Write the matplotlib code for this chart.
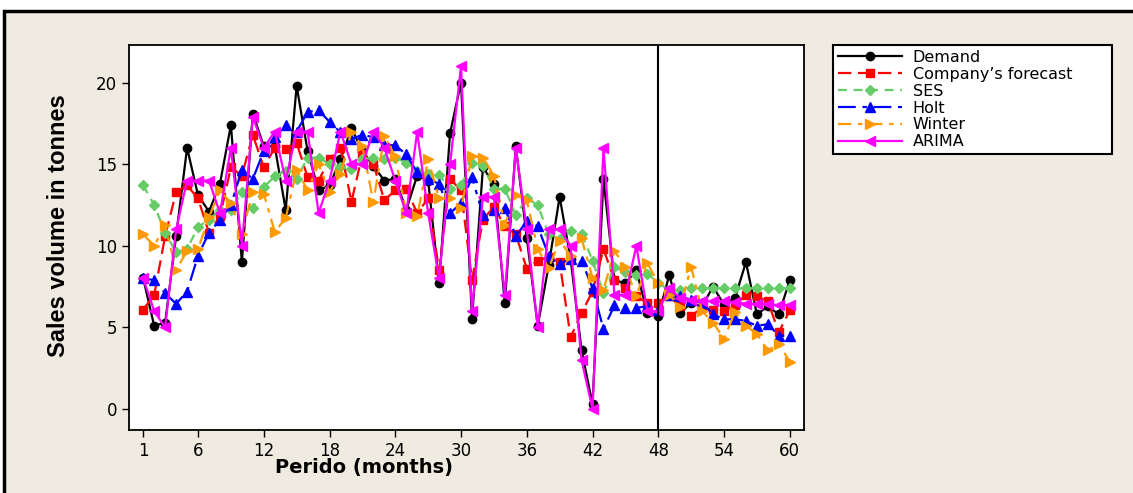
import matplotlib
matplotlib.use("Agg")
import matplotlib.pyplot as plt
from matplotlib.patches import Rectangle
import numpy as np

plt.rcParams["font.family"] = ["DejaVu Sans"]

months = list(range(1, 61))
x_ticks = [1, 6, 12, 18, 24, 30, 36, 42, 48, 54, 60]
y_ticks = [0, 5, 10, 15, 20]

demand = [8.0, 5.1, 5.3, 10.6, 16.0, 13.1, 12.1, 13.8, 17.4, 9.0,
          18.1, 16.1, 16.1, 12.2, 19.8, 15.8, 13.4, 13.7, 15.3, 17.2,
          15.8, 14.9, 14.0, 14.1, 12.2, 14.3, 14.0, 7.7, 16.9, 20.0,
          5.5, 14.8, 13.8, 6.5, 16.1, 10.5, 5.1, 8.8, 13.0, 9.2,
          3.6, 0.3, 14.1, 7.9, 7.7, 8.5, 5.9, 5.7, 8.2, 5.9,
          6.5, 6.3, 7.5, 6.4, 6.8, 9.0, 5.8, 6.3, 5.8, 7.9]

company = [6.1, 7.0, 10.6, 13.3, 13.7, 12.9, 10.8, 11.8, 14.8, 14.3,
           16.8, 14.8, 16.0, 15.9, 16.3, 14.2, 14.0, 15.3, 16.0, 12.7,
           15.6, 15.0, 12.8, 13.4, 13.5, 12.0, 12.9, 8.5, 14.1, 13.4,
           7.9, 11.6, 12.4, 11.2, 10.7, 8.6, 9.1, 9.3, 9.0, 4.4,
           5.9, 7.2, 9.8, 7.9, 7.4, 6.9, 6.5, 6.5, 6.9, 6.3,
           5.7, 6.2, 6.1, 6.0, 6.35, 7.0, 6.9, 6.6, 4.7, 6.05]

ses = [13.7, 12.5, 10.8, 9.6, 9.8, 11.15, 11.6, 12.2, 12.2, 13.3,
       12.3, 13.6, 14.25, 14.6, 14.1, 15.4, 15.4, 15.0, 14.8, 14.7,
       15.3, 15.4, 15.3, 15.4, 15.1, 14.6, 14.4, 14.35, 13.5, 13.7,
       15.1, 14.9, 13.5, 13.5, 11.9, 12.9, 12.5, 10.7, 10.4, 10.9,
       10.75, 9.1, 7.1, 8.7, 8.4, 8.2, 8.3, 7.7, 7.3, 7.3,
       7.4, 7.4, 7.4, 7.4, 7.4, 7.4, 7.4, 7.4, 7.4, 7.4]

holt = [8.0, 7.9, 7.1, 6.45, 7.2, 9.4, 10.8, 11.6, 12.5, 14.65,
        14.1, 15.8, 16.65, 17.4, 17.0, 18.2, 18.3, 17.6, 16.95, 16.55,
        16.8, 16.65, 16.2, 16.15, 15.6, 14.5, 14.1, 13.8, 12.0, 12.6,
        14.2, 11.9, 12.2, 12.3, 10.6, 11.5, 11.2, 9.4, 8.9, 9.2,
        9.1, 7.4, 4.9, 6.35, 6.2, 6.2, 6.3, 6.1, 7.0, 6.9,
        6.7, 6.5, 5.8, 5.5, 5.5, 5.4, 5.1, 5.2, 4.5, 4.5]

winter = [10.7, 10.0, 11.25, 8.5, 9.7, 9.8, 11.75, 13.4, 12.6, 10.75,
          13.3, 13.2, 10.85, 11.7, 14.65, 13.4, 15.0, 13.3, 14.4, 17.0,
          16.1, 12.7, 16.7, 15.5, 12.0, 11.8, 15.3, 12.9, 12.9, 12.3,
          15.5, 15.4, 14.3, 11.3, 13.1, 12.8, 9.8, 8.65, 10.3, 9.4,
          10.45, 8.05, 7.3, 9.7, 8.7, 6.9, 8.95, 7.7, 7.0, 6.25,
          8.7, 6.0, 5.3, 4.3, 5.95, 5.1, 4.6, 3.6, 4.0, 2.9]

arima = [8.0, 6.0, 5.0, 11.0, 14.0, 14.0, 14.0, 12.0, 16.0, 10.0,
         17.9, 16.0, 17.0, 14.0, 17.0, 17.0, 12.0, 14.0, 17.0, 15.0,
         15.0, 17.0, 16.0, 14.0, 12.0, 17.0, 12.0, 8.0, 15.0, 21.0,
         6.0, 13.0, 13.0, 7.0, 16.0, 11.0, 5.0, 11.0, 11.0, 10.0,
         3.0, 0.0, 16.0, 7.0, 7.0, 10.0, 6.0, 6.0, 7.4, 6.8,
         6.7, 6.65, 6.6, 6.6, 6.55, 6.45, 6.45, 6.45, 6.35, 6.4]

W, H = 1133, 493
fig = plt.figure(figsize=(W / 100, H / 100), dpi=100)
fig.patch.set_facecolor("white")
bg = "#EFEBE1"
fig.patches.append(Rectangle((4 / W, -0.05), 1.1, 1 - 11 / H + 0.05,
                             transform=fig.transFigure, facecolor=bg,
                             edgecolor="black", linewidth=2.5, zorder=-10))

ax = fig.add_axes([129 / W, 1 - 430 / H, (804 - 129) / W, (430 - 45) / H])
ax.set_facecolor("white")

lw = 1.6
ax.plot(months, demand, color="black", lw=lw, marker="o", ms=6, label="Demand", zorder=3)
ax.plot(months, company, color="#FF0000", lw=lw, ls=(0, (6, 3)), marker="s", ms=6,
        label="Company\u2019s forecast", zorder=3)
ax.plot(months, ses, color="#66CC66", lw=lw, ls=(0, (4, 3)), marker="D", ms=5.5,
        label="SES", zorder=3)
ax.plot(months, holt, color="#0000FF", lw=lw, ls=(0, (8, 3, 2, 3)), marker="^", ms=7.5,
        label="Holt", zorder=3)
ax.plot(months, winter, color="#FF9900", lw=lw, ls=(0, (6, 3, 2, 3)), marker=">", ms=7.5,
        label="Winter", zorder=3)
ax.plot(months, arima, color="#FF00FF", lw=lw, marker="<", ms=7.5, label="ARIMA", zorder=4)

ax.axvline(48, color="black", lw=1.5, zorder=5)

ax.set_xlim(-0.3, 61.3)
ax.set_ylim(-1.28, 22.3)
ax.set_xticks(x_ticks)
ax.set_yticks(y_ticks)
ax.tick_params(direction="out", length=5, width=1, labelsize=12, colors="black")
for s in ax.spines.values():
    s.set_linewidth(1.3)

ax.set_xlabel("Perido (months)", fontsize=14, fontweight="bold", family="DejaVu Sans")
ax.xaxis.set_label_coords(0.348, -0.072)
ax.set_ylabel("Sales volume in tonnes", fontsize=17, fontweight="bold",
              family=["Liberation Sans", "DejaVu Sans"])
ax.yaxis.set_label_coords(-0.087, 0.53)

leg = fig.legend(loc="upper left",
                 bbox_to_anchor=(833 / W, 1 - 157 / H, 279 / W, 112 / H),
                 mode="expand",
                 fontsize=11.5, frameon=True, fancybox=False, handlelength=4.0,
                 borderpad=0.3, labelspacing=0.12, handletextpad=0.7,
                 borderaxespad=0)
leg.get_frame().set_edgecolor("black")
leg.get_frame().set_linewidth(1.5)
leg.get_frame().set_facecolor("white")
leg.get_frame().set_alpha(1)

fig.savefig("out.png", dpi=100, facecolor=fig.get_facecolor())
